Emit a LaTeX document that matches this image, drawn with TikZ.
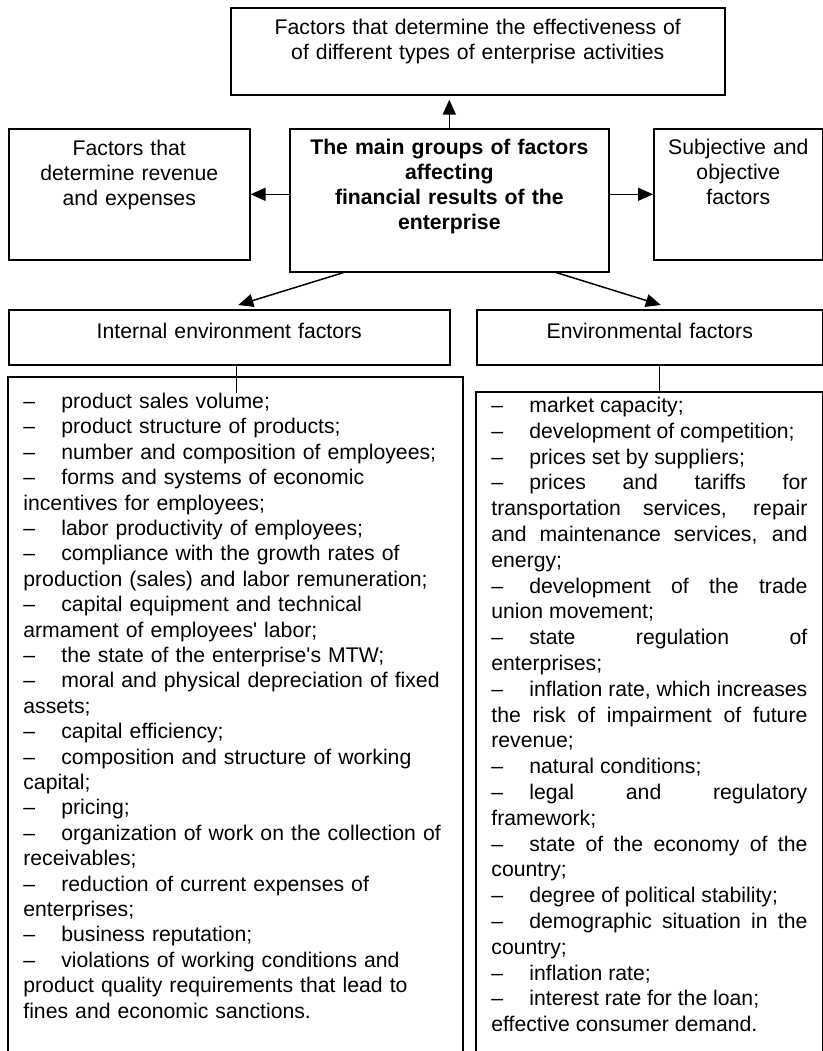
\documentclass[tikz,border=0pt]{standalone}
\usepackage{fontspec}
\setmainfont{Liberation Sans}
\usetikzlibrary{arrows.meta, positioning, calc}

\tolerance=10000
\hbadness=10000
\hyphenpenalty=10000
\newcommand\basefont{\fontsize{10.6pt}{12.4pt}\selectfont}
\newcommand\dashitem[1]{\makebox[19pt][l]{\textendash}#1}

\begin{document}
\begin{tikzpicture}[
    x=0.5pt, y=-0.5pt,
    block/.style={rectangle, draw, line width=0.8pt, inner sep=0pt, align=center, anchor=north west, font=\basefont},
    listbox/.style={inner xsep=7.5pt, inner ysep=0pt, anchor=north west},
    frame/.style={line width=0.8pt},
    arrow/.style={line width=0.75pt, -{Triangle[length=7.5pt, width=6.5pt]}},
    link/.style={line width=0.5pt}
]
\useasboundingbox (0,0) rectangle (823,1051);

% Main group
\node (main) [block, text width=159.5pt, text height=13pt, text depth=58.5pt, font=\basefont\bfseries] at (289,128)
    {The main groups of factors\\ affecting\\ financial results of the\\ enterprise};

% Upper groups
\node (effect) [block, text width=247pt, text height=13.5pt, text depth=30pt] at (230,7)
    {Factors that determine the effectiveness of\\ of different types of enterprise activities};
\node (revenue) [block, text width=120.5pt, text height=13.5pt, text depth=52pt] at (8,128)
    {Factors that\\ determine revenue\\ and expenses};
\node (subjective) [block, text width=84.5pt, text height=13pt, text depth=52.5pt] at (653,128)
    {Subjective and\\ objective\\ factors};

% Environments
\node (internal) [block, text width=220.5pt, text height=14.5pt, text depth=13pt] at (8,309)
    {Internal environment factors};
\node (external) [block, text width=173pt, text height=14.5pt, text depth=13pt] at (476,309)
    {Environmental factors};

% Internal list
\node (ilist) [listbox, text width=212pt, text height=15.5pt, text depth=321.5pt, align=left,
    font=\fontsize{10.6pt}{12.7pt}\selectfont] at (8,377) {%
\dashitem{product sales volume;}\par
\dashitem{product structure of products;}\par
\dashitem{number and composition of employees;}\par
\dashitem{forms and systems of economic}\newline incentives for employees;\par
\dashitem{labor productivity of employees;}\par
\dashitem{compliance with the growth rates of}\newline production (sales) and labor remuneration;\par
\dashitem{capital equipment and technical}\newline armament of employees\textquotesingle{} labor;\par
\dashitem{the state of the enterprise\textquotesingle{}s MTW;}\par
\dashitem{moral and physical depreciation of fixed}\newline assets;\par
\dashitem{capital efficiency;}\par
\dashitem{composition and structure of working}\newline capital;\par
\dashitem{pricing;}\par
\dashitem{organization of work on the collection of}\newline receivables;\par
\dashitem{reduction of current expenses of}\newline enterprises;\par
\dashitem{business reputation;}\par
\dashitem{violations of working conditions and}\newline product quality requirements that lead to\newline fines and economic sanctions.};

% External list
\node (elist) [listbox, text width=158pt, text height=10pt, text depth=319.5pt, align=justify,
    font=\fontsize{10.6pt}{12.9pt}\selectfont] at (476,392) {%
\dashitem{market capacity;}\par
\dashitem{development of competition;}\par
\dashitem{prices set by suppliers;}\par
\dashitem{prices and tariffs for}\linebreak transportation services, repair\linebreak and maintenance services, and\linebreak energy;\par
\dashitem{development of the trade}\linebreak union movement;\par
\dashitem{state regulation of}\linebreak enterprises;\par
\dashitem{inflation rate, which increases}\linebreak the risk of impairment of future\linebreak revenue;\par
\dashitem{natural conditions;}\par
\dashitem{legal and regulatory}\linebreak framework;\par
\dashitem{state of the economy of the}\linebreak country;\par
\dashitem{degree of political stability;}\par
\dashitem{demographic situation in the}\linebreak country;\par
\dashitem{inflation rate;}\par
\dashitem{interest rate for the loan;}\par
effective consumer demand.};

% List frames (open at the bottom)
\draw [frame] (ilist.south west) -- (ilist.north west) -- (ilist.north east) -- (ilist.south east);
\draw [frame] (elist.south west) -- (elist.north west) -- (elist.north east) -- (elist.south east);

% Arrows
\draw [arrow, shorten >=2pt] (main.north) -- (main.north |- effect.south);
\draw [arrow] (main.west |- revenue.east) -- (revenue.east);
\draw [arrow] (main.east |- subjective.west) -- (subjective.west);
\draw [arrow] ($(main.south west)!0.17!(main.south east)$) -- ($(internal.north)+(9,-4)$);
\draw [arrow] ($(main.south west)!0.834!(main.south east)$) -- ($(external.north)+(11,-4)$);

% Links to lists
\draw [link] ([xshift=3.75pt]internal.south) -- ++(0,27);
\draw [link] ([xshift=5pt]external.south) -- (elist.north -| {$(external.south)+(10,0)$});

\end{tikzpicture}
\end{document}
